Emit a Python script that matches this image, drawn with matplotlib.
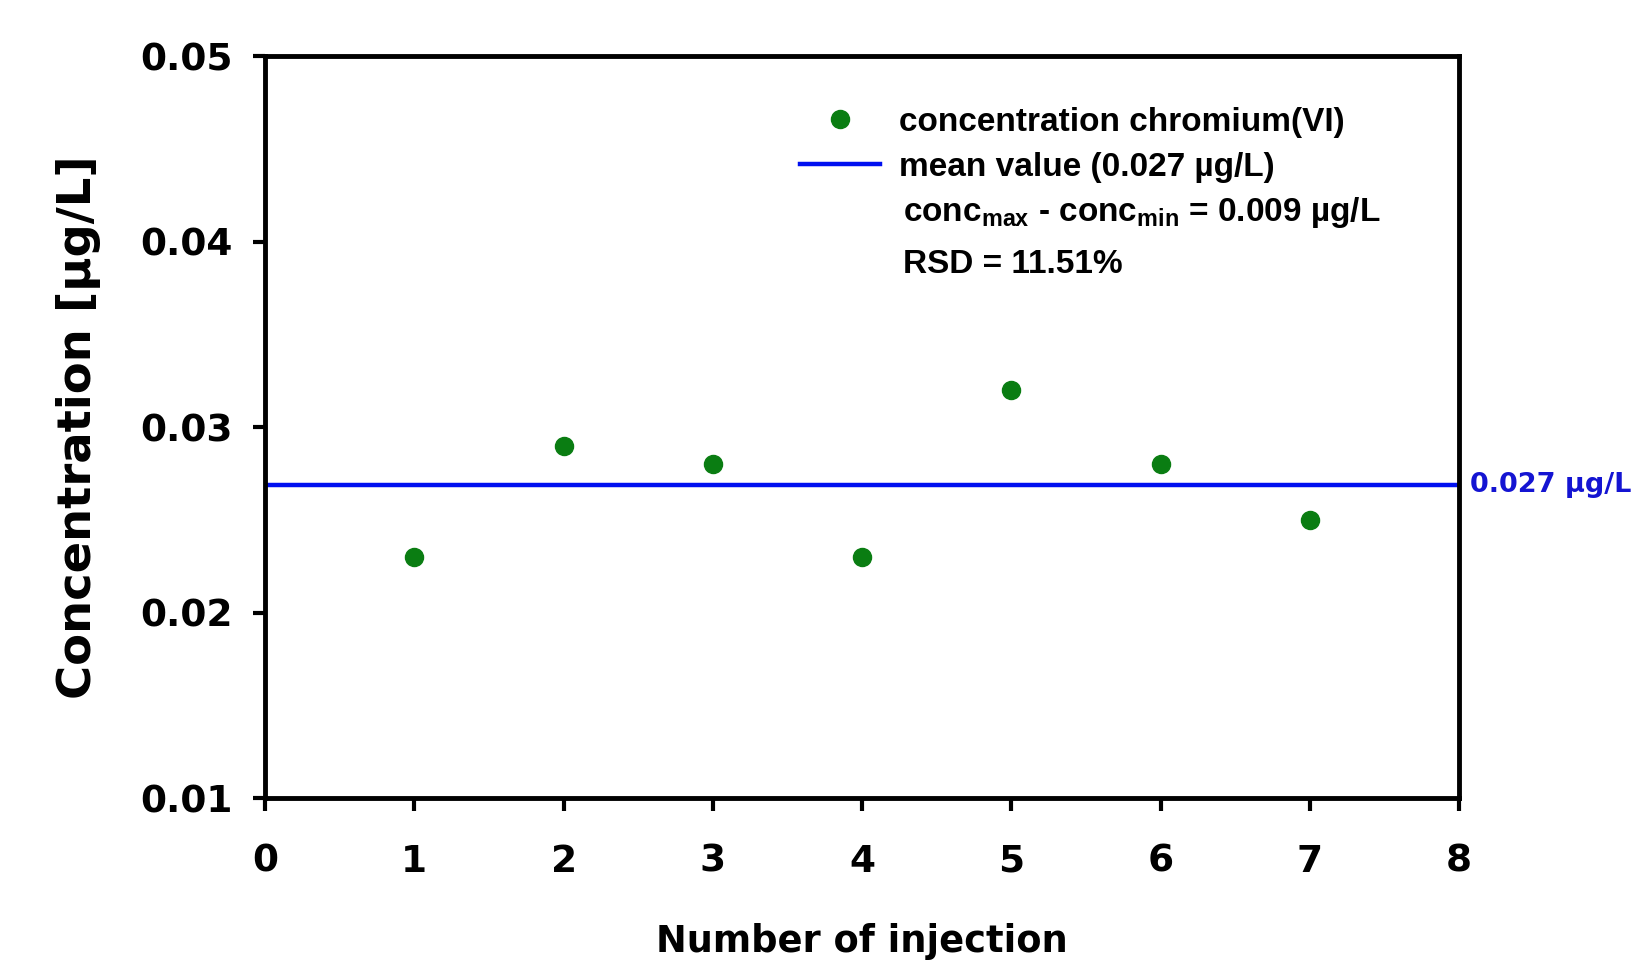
import matplotlib
matplotlib.use("Agg")
import matplotlib.pyplot as plt
from matplotlib.lines import Line2D
import numpy as np

# injection number vs measured chromium(VI) concentration
injection = [1, 2, 3, 4, 5, 6, 7]
concentration = [0.023, 0.029, 0.028, 0.023, 0.032, 0.028, 0.025]
mean_value = np.mean(concentration)

x_ticks = [0, 1, 2, 3, 4, 5, 6, 7, 8]
y_ticks = [0.01, 0.02, 0.03, 0.04, 0.05]

GREEN = "#0a7d12"
BLUE = "#0010f0"
TICK_FONT = "DejaVu Sans"
LEG_FONT = ["Liberation Sans Narrow", "Liberation Sans", "DejaVu Sans"]

fig = plt.figure(figsize=(16.36, 9.61), dpi=100)
ax = fig.add_axes([0.162, 0.1696, 0.730, 0.772])

ax.plot(injection, concentration, "o", color=GREEN, markersize=13, zorder=3)
ax.axhline(mean_value, color=BLUE, linewidth=3.2, zorder=2)

ax.set_xlim(0, 8)
ax.set_ylim(0.01, 0.05)
ax.set_xticks(x_ticks)
ax.set_yticks(y_ticks)
ax.set_xticklabels([str(t) for t in x_ticks])
ax.set_yticklabels(["%.2f" % t for t in y_ticks])

for sp in ax.spines.values():
    sp.set_linewidth(3.5)
ax.tick_params(direction="out", length=9, width=3)
ax.tick_params(axis="y", pad=14.5)
ax.tick_params(axis="x", pad=24)
for lab in ax.get_xticklabels() + ax.get_yticklabels():
    lab.set_fontfamily(TICK_FONT)
    lab.set_fontweight("bold")
    lab.set_fontsize(27)

ax.set_xlabel("Number of injection", fontfamily=TICK_FONT, fontweight="bold", fontsize=26.5)
ax.set_ylabel("Concentration [µg/L]", fontfamily=TICK_FONT, fontweight="bold", fontsize=33.5)
ax.xaxis.set_label_coords(0.5, -0.169)
ax.yaxis.set_label_coords(-0.137, 0.5)

# legend
handles = [
    Line2D([], [], marker="o", linestyle="none", color=GREEN, markersize=13),
    Line2D([], [], color=BLUE, linewidth=3.2),
]
leg = ax.legend(handles, ["concentration chromium(VI)", "mean value (0.027 µg/L)"],
                loc="upper left", bbox_to_anchor=(0.423, 0.972), frameon=False,
                prop={"family": LEG_FONT, "weight": "bold", "size": 24},
                handlelength=2.4, handletextpad=0.55, labelspacing=0.42)

ax.text(0.534, 0.789, r"conc$_{\mathregular{max}}$ - conc$_{\mathregular{min}}$ = 0.009 µg/L",
        transform=ax.transAxes, family=LEG_FONT, weight="bold", fontsize=24,
        va="center", ha="left")
ax.text(0.534, 0.719, "RSD = 11.51%", transform=ax.transAxes, family=LEG_FONT,
        weight="bold", fontsize=24, va="center", ha="left")

# mean value label right of the axes
ax.text(1.009, mean_value, "0.027 µg/L", transform=ax.get_yaxis_transform(),
        color="#1414d2", family=TICK_FONT, weight="bold", fontsize=19.5,
        va="center", ha="left", clip_on=False)

fig.savefig("out.png", dpi=100)
